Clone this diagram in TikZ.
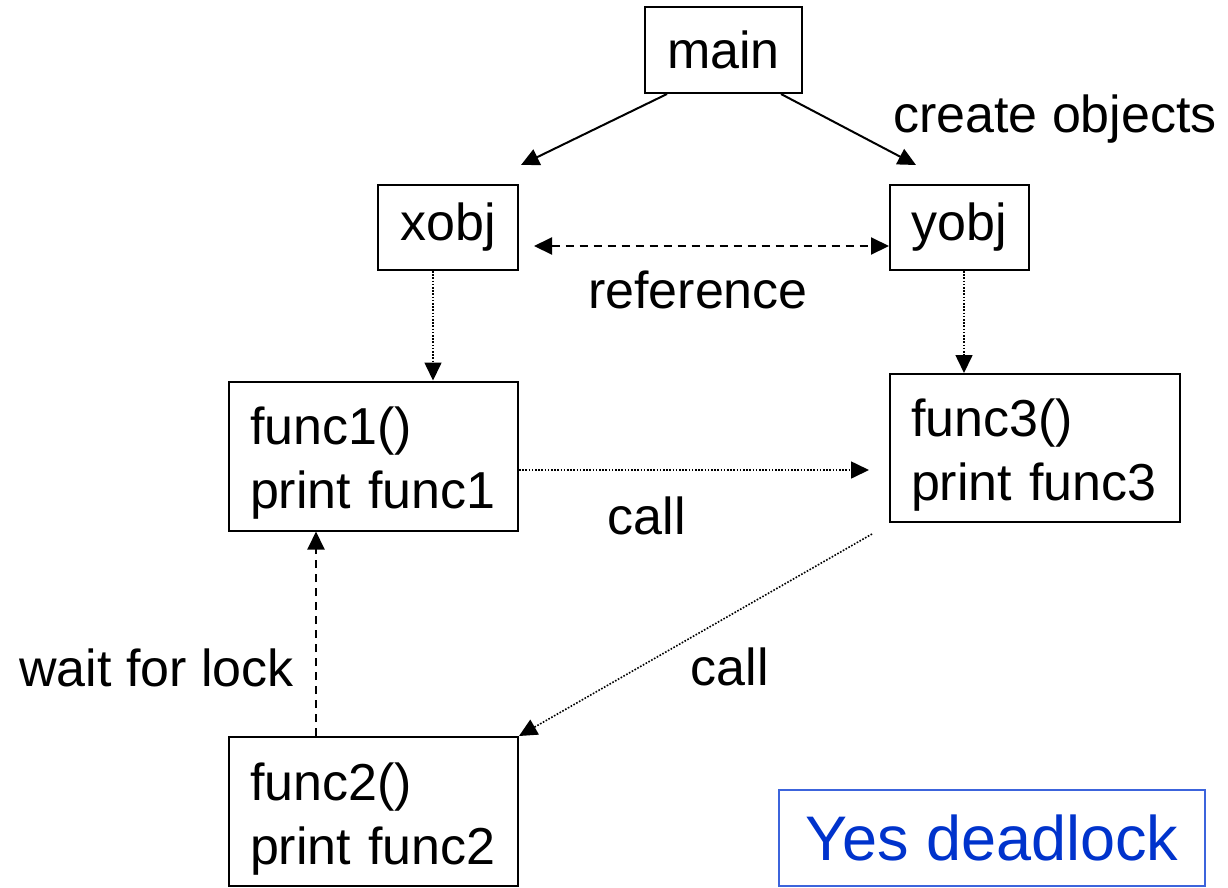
\documentclass[tikz,border=0pt]{standalone}
\usepackage{fontspec}
\setmainfont{Liberation Sans}
\usetikzlibrary{arrows.meta,calc}
\definecolor{dlblue}{RGB}{0,51,204}
\definecolor{dlborder}{RGB}{60,100,220}
\newcommand{\firststrut}{\rule{0pt}{52pt}}
\begin{document}
\begin{tikzpicture}[x=1pt,y=-1pt,
  box/.style={draw,line width=2pt,inner sep=0pt},
  funcbox/.style={box,minimum width=289pt,minimum height=149pt,align=left,text width=247pt,font=\fontsize{52}{64}\selectfont},
  lbl/.style={inner sep=0pt,font=\fontsize{52}{58}\selectfont},
  tip/.style={-{Triangle[length=18pt,width=17pt]}},
  solidarr/.style={tip,line width=2pt},
  dotarr/.style={tip,line width=1.6pt,dash pattern=on 1.6pt off 1.6pt},
  dasharr/.style={line width=2pt,dash pattern=on 8pt off 6pt}
]
\useasboundingbox (0,0) rectangle (1228,887);
\node[box,minimum width=157pt,minimum height=86pt,font=\fontsize{52}{58}\selectfont] (main) at (723.5,50) {main};
\node[box,minimum width=140pt,minimum height=85pt,font=\fontsize{52}{58}\selectfont] (xobj) at (448,227.5) {xobj};
\node[box,minimum width=139pt,minimum height=85pt,font=\fontsize{52}{58}\selectfont] (yobj) at (959.5,227.5) {yobj};
\node[funcbox] (func1) at (373.5,456) {\firststrut func1()\\print func1};
\node[funcbox,minimum width=290pt,minimum height=148pt,text width=248pt] (func3) at (1035,448) {\firststrut func3()\\print func3};
\node[funcbox] (func2) at (373.5,811.5) {\firststrut func2()\\print func2};
\node[draw=dlborder,line width=1.5pt,minimum width=426pt,minimum height=96pt,inner sep=0pt,text=dlblue,font=\fontsize{63}{70}\selectfont] (dl) at (992,838) {Yes deadlock};

\node[lbl] (lcreate) at (1055,119) {create objects};
\node[lbl] (lref) at (698,290) {reference};
\node[lbl] (lcall1) at (647,516) {call};
\node[lbl] (lcall2) at (730,667) {call};
\node[lbl] (lwait) at (156.5,668) {wait for lock};

\draw[solidarr] ([xshift=23pt]main.south west) -- ([xshift=2pt,yshift=19pt]xobj.north east);
\draw[solidarr] ([xshift=-22pt]main.south east) -- ([xshift=27pt,yshift=19pt]yobj.north west);
\draw[dasharr,{Triangle[length=18pt,width=17pt]}-{Triangle[length=18pt,width=17pt]},shorten <=15pt] ([yshift=-18.5pt]xobj.east) -- ([yshift=-18.5pt]yobj.west);
\draw[dotarr] ([xshift=-15pt]xobj.south) -- ([xshift=-15pt]xobj.south |- func1.north);
\draw[dotarr] ([xshift=4.5pt]yobj.south) -- ([xshift=4.5pt]yobj.south |- func3.north);
\draw[dotarr,shorten >=20pt] ([yshift=-14pt]func1.east) -- ([yshift=-14pt]func1.east -| func3.west);
\draw[dotarr] ([xshift=-17pt,yshift=-11pt]func3.south west) -- (func2.north east);
\draw[dasharr,tip] ([xshift=-57.5pt]func2.north) -- ([xshift=-57.5pt]func1.south);
\end{tikzpicture}
\end{document}
